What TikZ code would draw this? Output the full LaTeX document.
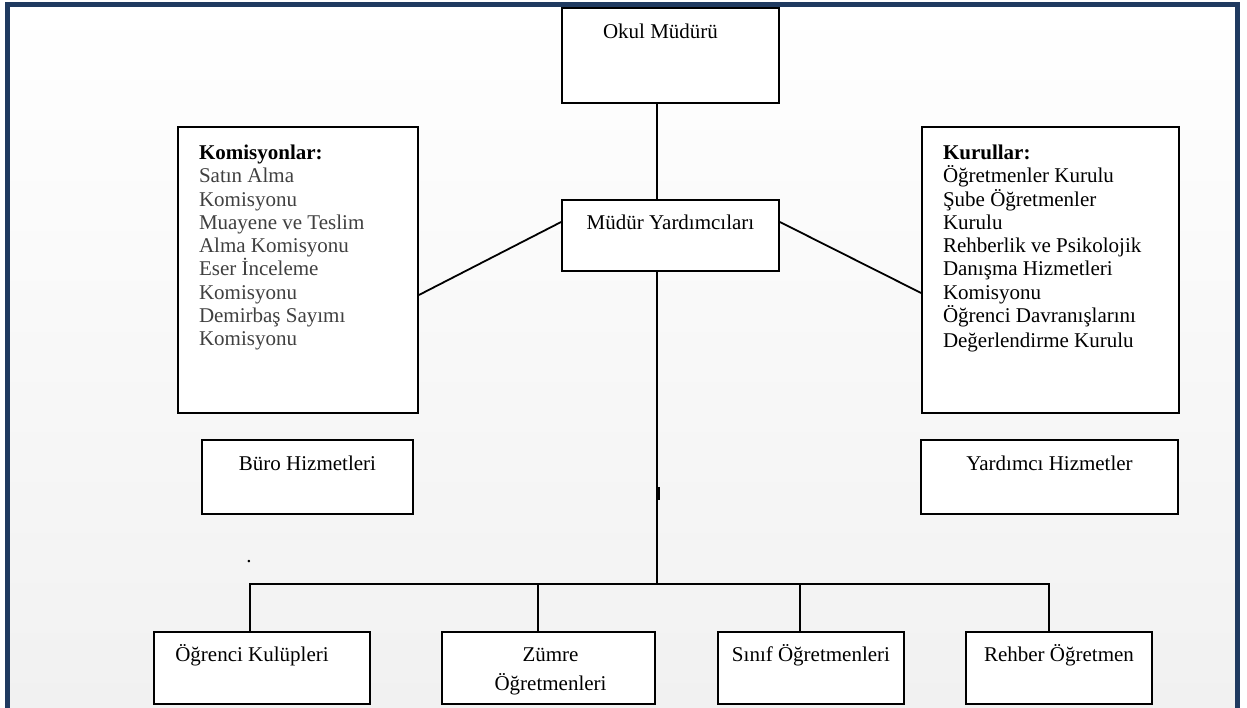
\documentclass[tikz,border=0pt]{standalone}
\usepackage{fontspec}
\setmainfont{Liberation Serif}
\usetikzlibrary{positioning}
\definecolor{navy}{RGB}{31,58,96}
\definecolor{paper}{RGB}{241,241,241}
\definecolor{itemgray}{RGB}{64,64,64}

\begin{document}
\begin{tikzpicture}[x=1pt, y=-1pt, line width=1.8pt,
        box/.style={draw=black, fill=white, inner sep=0pt},
        lbl/.style={inner sep=0pt, anchor=base, font=\fontsize{21pt}{23.25pt}\selectfont},
        list/.style={inner sep=0pt, anchor=north west, align=left, font=\fontsize{21pt}{23.25pt}\selectfont}]

        \useasboundingbox (0,0) rectangle (1247,708);
        % page frame
        \shade[top color=white, bottom color=paper] (7.5,4.5) rectangle (1237.5,708);
        \draw[navy, line width=5.5pt] (7.5,712) -- (7.5,4.5) -- (1237.5,4.5) -- (1237.5,712);

        % boxes
        \node[box, minimum width=217pt, minimum height=95pt] (okul) at (670.5,55.5) {};
        \node[box, minimum width=217pt, minimum height=71pt] (yard) at (670.5,235.5) {};
        \node[box, minimum width=240pt, minimum height=286pt] (komis) at (298,270) {};
        \node[box, minimum width=257pt, minimum height=286pt] (kurul) at (1050.5,270) {};
        \node[box, minimum width=211pt, minimum height=74pt] (buro) at (307.5,477) {};
        \node[box, minimum width=257pt, minimum height=74pt] (yardh) at (1049.5,477) {};
        \node[box, minimum width=216pt, minimum height=72pt] (ogr) at (262,668) {};
        \node[box, minimum width=213pt, minimum height=72pt] (zum) at (548.5,668) {};
        \node[box, minimum width=186pt, minimum height=72pt] (sinif) at (811,668) {};
        \node[box, minimum width=186pt, minimum height=72pt] (rehber) at (1059,668) {};

        % texts
        \node[lbl] (okultxt) at ([xshift=-10pt, yshift=-31pt]okul.north) {Okul Müdürü};
        \node[lbl] (yardtxt) at ([yshift=-30pt]yard.north) {Müdür Yardımcıları};
        \node[list, text=itemgray] (komistxt) at ([xshift=21pt, yshift=-18pt]komis.north west)
            {\textcolor{black}{\textbf{Komisyonlar:}}\\ Satın Alma\\ Komisyonu\\ Muayene ve Teslim\\
             Alma Komisyonu\\ Eser İnceleme\\ Komisyonu\\ Demirbaş Sayımı\\ Komisyonu};
        \node[list] (kurultxt) at ([xshift=21pt, yshift=-18pt]kurul.north west)
            {\textbf{Kurullar:}\\ Öğretmenler Kurulu\\ Şube Öğretmenler\\ Kurulu\\ Rehberlik ve Psikolojik\\
             Danışma Hizmetleri\\ Komisyonu\\ Öğrenci Davranışlarını\\[2pt] Değerlendirme Kurulu};
        \node[lbl] (burotxt) at ([yshift=-31pt]buro.north) {Büro Hizmetleri};
        \node[lbl] (yardhtxt) at ([yshift=-31pt]yardh.north) {Yardımcı Hizmetler};
        \node[lbl] (ogrtxt) at ([xshift=-10pt, yshift=-30pt]ogr.north) {Öğrenci Kulüpleri};
        \node[lbl] (zumtxt) at ([xshift=2pt, yshift=-30pt]zum.north) {Zümre};
        \node[lbl] (zumtxtb) at ([xshift=2pt, yshift=-59pt]zum.north) {Öğretmenleri};
        \node[lbl] (siniftxt) at ([yshift=-30pt]sinif.north) {Sınıf Öğretmenleri};
        \node[lbl] (rehbertxt) at ([yshift=-30pt]rehber.north) {Rehber Öğretmen};
        \node[lbl] (dot) at (249,562) {.};

        % connectors
        \coordinate (bus) at (657,584);
        \draw (okul.south -| bus) -- (yard.north -| bus);
        \draw (yard.south -| bus) -- (bus);
        \fill (656,487) rectangle (659.5,500);
        \draw ([yshift=-25pt]komis.east) -- ([yshift=13.5pt]yard.west);
        \draw ([yshift=13.5pt]yard.east) -- ([yshift=-23pt]kurul.west);
        \foreach \team/\dx in {ogr/-12, zum/-10.5, sinif/-11, rehber/-10}
            \draw ([xshift=\dx pt]\team.north) |- (bus);

\end{tikzpicture}
\end{document}
